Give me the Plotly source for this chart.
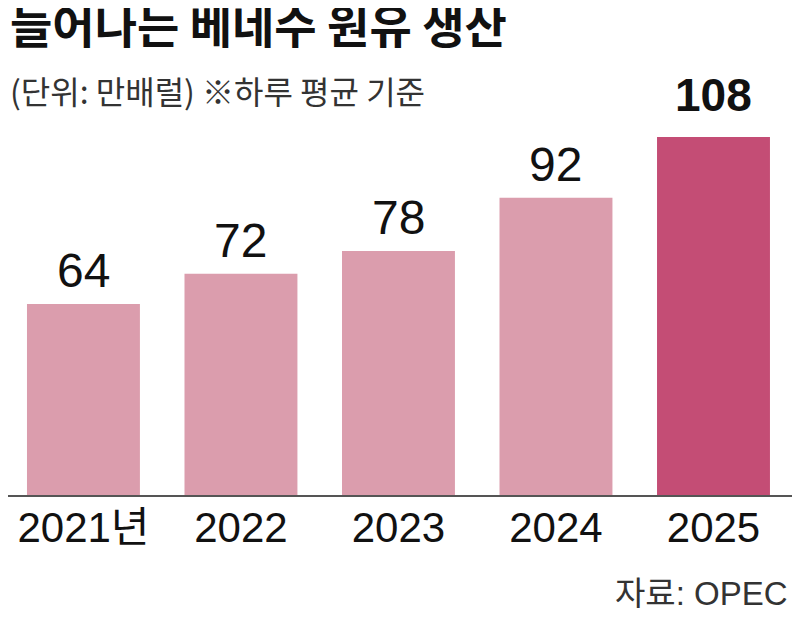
import plotly.graph_objects as go

# 베네수엘라 원유 생산 (단위: 만배럴, 하루 평균)
years = ['2021년', '2022', '2023', '2024', '2025']
output = [64, 72, 78, 92, 108]

# styling per bar (last year highlighted)
bar_colors = ['#DB9DAD', '#DB9DAD', '#DB9DAD', '#DB9DAD', '#C44D75']
label_bold = [False, False, False, False, True]
label_lift = [5, 5, 5, 5, 14]

latin = 'Liberation Sans, Arial, Noto Sans CJK KR, sans-serif'
kr = 'Noto Sans CJK KR, sans-serif'

fig = go.Figure(go.Bar(
    x=years,
    y=output,
    marker=dict(color=bar_colors, line=dict(width=0)),
    cliponaxis=False,
    hoverinfo='skip',
))

# value labels above bars (x given as category index)
for i, (val, bold, lift) in enumerate(zip(output, label_bold, label_lift)):
    fig.add_annotation(
        x=i, y=val, text=f'<b>{val}</b>' if bold else str(val),
        yanchor='bottom', yshift=lift, showarrow=False,
        font=dict(family=latin, size=46 if bold else 48, color='#111111'),
    )

# title, unit note, source
fig.add_annotation(
    text='<b>늘어나는 베네수 원유 생산</b>', xref='paper', yref='paper',
    x=0, y=1, xanchor='left', yanchor='top', yshift=140,
    showarrow=False, font=dict(family=kr, size=46, color='#111111'))
fig.add_annotation(
    text='(단위: 만배럴) ※하루 평균 기준', xref='paper', yref='paper',
    x=0, y=1, xanchor='left', yanchor='top', yshift=63,
    showarrow=False, font=dict(family=kr, size=32, color='#333333'))
fig.add_annotation(
    text='자료: OPEC', xref='paper', yref='paper',
    x=1, y=0, xanchor='right', yanchor='top', xshift=-18, yshift=-78,
    showarrow=False, font=dict(family=latin, size=33, color='#333333'))

fig.update_layout(
    width=800, height=625,
    margin=dict(l=0, r=0, t=120, b=138),
    paper_bgcolor='white',
    plot_bgcolor='white',
    bargap=0.283,
    showlegend=False,
)

fig.update_xaxes(
    type='category', range=[-0.479, 4.6],
    showline=True, linecolor='#555555', linewidth=2,
    ticks='', ticklabelstandoff=-5, automargin=False,
    tickfont=dict(family=latin, size=42, color='#111111'),
    showgrid=False,
)
fig.update_yaxes(range=[13.7, 110.4], visible=False, showgrid=False,
                 automargin=False)

fig.write_html('out.html')
